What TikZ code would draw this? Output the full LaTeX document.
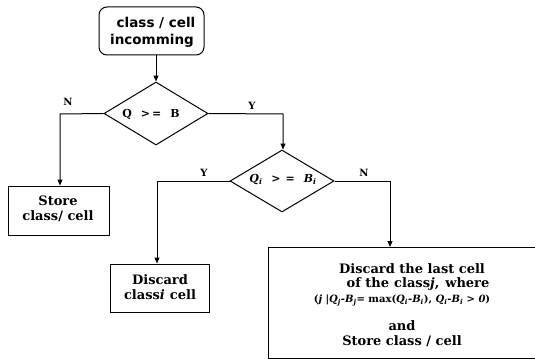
\documentclass[tikz,border=0pt]{standalone}
\usepackage{fontspec}
\setmainfont{DejaVu Serif}
\setsansfont{DejaVu Sans}
\usetikzlibrary{shapes.geometric,arrows.meta}
\newcommand\myvar[2]{\textit{#1}\textsubscript{\textit{#2}}}
\begin{document}
\begin{tikzpicture}[x=1pt,y=-1pt,
  box/.style={draw,line width=1pt,inner sep=0pt},
  txt/.style={align=center,font=\bfseries\fontsize{13}{15.5}\selectfont,inner sep=0pt},
  dia/.style={draw,line width=1pt,diamond,inner sep=0pt},
  arr/.style={line width=1pt,-{Triangle[length=6pt,width=5pt]}},
  lab/.style={font=\bfseries\fontsize{10}{11}\selectfont,inner sep=0pt}]
\useasboundingbox (0,0) rectangle (535,361);
% start box
\node[box,rounded corners=8pt,minimum width=105pt,minimum height=48pt] (start) at (151.5,31) {};
\node[txt,font=\sffamily\bfseries\fontsize{13.5}{17}\selectfont] (starttxt) at (152,32) {\hspace*{8pt}class / cell\\incomming};
% decisions
\node[dia,minimum width=104pt,minimum height=63pt] (d1) at (156,113.5) {};
\node[txt,font=\bfseries\fontsize{11}{13}\selectfont] (d1txt) at (151,114) {Q\hspace{9pt}>\hspace{2pt}=\hspace{9pt}B};
\node[dia,minimum width=104pt,minimum height=62pt] (d2) at (282,181) {};
\node[txt,font=\bfseries\fontsize{11}{13}\selectfont] (d2txt) at (283,179) {\myvar{Q}{i}\hspace{9pt}>\hspace{5pt}=\hspace{9pt}\myvar{B}{i}};
% boxes
\node[box,minimum width=100.5pt,minimum height=49pt] (store) at (58.75,210.5) {};
\node[txt] (storetxt) at (58,209) {Store\\class/ cell};
\node[box,minimum width=99pt,minimum height=48pt] (disc) at (159.5,288) {};
\node[txt] (disctxt) at (160,287) {Discard\\class\textit{i}\hspace{5pt}cell};
\node[box,minimum width=280pt,minimum height=111pt,anchor=north west] (big) at (268,247) {};
\node[txt,font=\bfseries\fontsize{13}{14.5}\selectfont] (bigtxt) at (402,305) {\hspace*{20pt}Discard the last cell\\
  \hspace*{32pt}of the\hspace{5pt}class\textit{j},\hspace{6pt}where\\
  {\fontsize{10}{12}\selectfont (\textit{j} |\myvar{Q}{j}-\myvar{B}{j}= max(\myvar{Q}{i}-\myvar{B}{i}), \myvar{Q}{i}-\myvar{B}{i} > \textit{0})}\\[14pt]
  and\\Store class / cell};
% connectors
\coordinate (c1) at (60,114);
\coordinate (c2) at (283,114);
\coordinate (c3) at (157,181);
\coordinate (c4) at (390,181);
\draw[arr] (start.south -| d1.north) -- (d1.north);
\draw[arr] (d1.west) -- (c1) -- (c1 |- store.north);
\draw[arr] (d1.east) -- (c2) -- (c2 |- d2.north);
\draw[arr] (d2.west) -- (c3) -- (c3 |- disc.north);
\draw[arr] (d2.east) -- (c4) -- (c4 |- big.north);
\node[lab] (n1) at (68,102) {N};
\node[lab] (y1) at (252,106) {Y};
\node[lab] (y2) at (204,173) {Y};
\node[lab] (n2) at (364,173) {N};
\end{tikzpicture}
\end{document}
